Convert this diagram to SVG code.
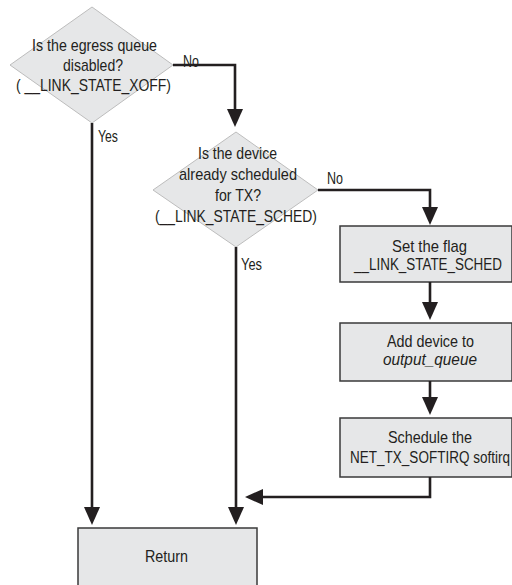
<svg xmlns="http://www.w3.org/2000/svg" width="512" height="585" viewBox="0 0 512 585">
<defs>
<style>
.dia{fill:#e6e7e8;stroke:#bdbdbd;stroke-width:1}
.box{fill:#e6e7e8;stroke:#3a3a3a;stroke-width:1.5}
text{font-family:"Liberation Sans",Arial,sans-serif;font-size:17px;fill:#231f20}
.c{text-anchor:middle}
.it{font-style:italic}
.conn path{fill:none;stroke:#231f20;stroke-width:2.6}
</style>
<marker id="arr" markerUnits="userSpaceOnUse" markerWidth="18" markerHeight="16" refX="8" refY="8" orient="auto">
<path d="M0,0 L18,8 L0,16 z" fill="#231f20"/>
</marker>
</defs>
<rect width="512" height="585" fill="#fff"/>
<g id="d1">
<polygon class="dia" points="92,7 173,65 92,123 10,65"/>
<text class="c" x="94.5" y="50.5" textLength="125" lengthAdjust="spacingAndGlyphs">Is the egress queue</text>
<text class="c" x="93" y="70.5" textLength="60" lengthAdjust="spacingAndGlyphs">disabled?</text>
<text class="c" x="93.5" y="90.5" textLength="155" lengthAdjust="spacingAndGlyphs">( __LINK_STATE_XOFF)</text>
</g>
<g id="d2">
<polygon class="dia" points="236,132 318,190 236,247 153,190"/>
<text class="c" x="237.5" y="159" textLength="79" lengthAdjust="spacingAndGlyphs">Is the device</text>
<text class="c" x="238" y="180" textLength="118" lengthAdjust="spacingAndGlyphs">already scheduled</text>
<text class="c" x="238" y="201" textLength="46" lengthAdjust="spacingAndGlyphs">for TX?</text>
<text class="c" x="236" y="222" textLength="162" lengthAdjust="spacingAndGlyphs">(__LINK_STATE_SCHED)</text>
</g>
<g id="b1">
<path class="box" d="M512,226 H340 V282 H512 Z"/>
<text class="c" x="429.5" y="252" textLength="75" lengthAdjust="spacingAndGlyphs">Set the flag</text>
<text class="c" transform="translate(428,270) scale(0.79,1)" x="0" y="0">__LINK_STATE_SCHED</text>
</g>
<g id="b2">
<path class="box" d="M512,323 H340 V381 H512 Z"/>
<text class="c" x="430.5" y="347" textLength="87" lengthAdjust="spacingAndGlyphs">Add device to</text>
<text class="c it" x="430" y="365" textLength="94" lengthAdjust="spacingAndGlyphs">output_queue</text>
</g>
<g id="b3">
<path class="box" d="M512,418 H340 V477 H512 Z"/>
<text class="c" x="430" y="443" textLength="84" lengthAdjust="spacingAndGlyphs">Schedule the</text>
<text class="c" transform="translate(430,463) scale(0.795,1)" x="0" y="0">NET_TX_SOFTIRQ softirq</text>
</g>
<g id="ret">
<rect class="box" x="78" y="528" width="179" height="70"/>
<text class="c" x="166.5" y="562" textLength="43" lengthAdjust="spacingAndGlyphs">Return</text>
</g>
<g id="connectors" class="conn">
<path d="M173,65 H235 V117" marker-end="url(#arr)"/>
<path d="M92,123 V515" marker-end="url(#arr)"/>
<path d="M318,190 H430 V215" marker-end="url(#arr)"/>
<path d="M430,282 V310" marker-end="url(#arr)"/>
<path d="M430,381 V405" marker-end="url(#arr)"/>
<path d="M430,477 V497 H255" marker-end="url(#arr)"/>
<path d="M236,247 V515" marker-end="url(#arr)"/>
</g>
<g id="labels">
<text x="183" y="67" textLength="16" lengthAdjust="spacingAndGlyphs">No</text>
<text x="98" y="142" textLength="20" lengthAdjust="spacingAndGlyphs">Yes</text>
<text x="327" y="184" textLength="16" lengthAdjust="spacingAndGlyphs">No</text>
<text x="241" y="270" textLength="21" lengthAdjust="spacingAndGlyphs">Yes</text>
</g>
</svg>
